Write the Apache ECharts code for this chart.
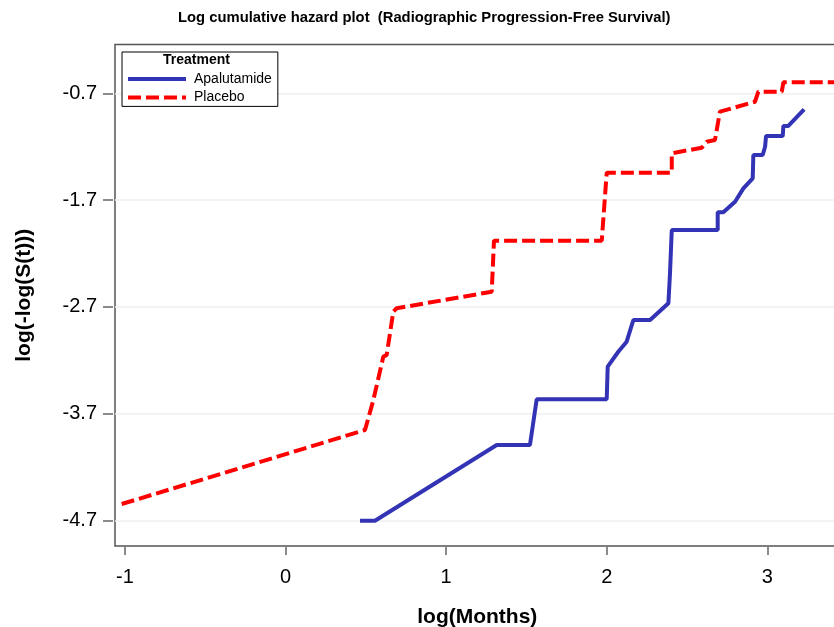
<!DOCTYPE html>
<html>
<head>
<meta charset="utf-8">
<script src="https://cdn.jsdelivr.net/npm/echarts@6/dist/echarts.min.js"></script>
<style>
html,body{margin:0;padding:0;background:#fff;}
#chart{width:834px;height:627px;}
</style>
</head>
<body>
<div id="chart"></div>
<script>
// ---- Data ----
var titleText = 'Log cumulative hazard plot  (Radiographic Progression-Free Survival)';
var xTicks = [-1, 0, 1, 2, 3];
var yTicks = [-4.7, -3.7, -2.7, -1.7, -0.7];

var apaName = 'Apalutamide';
var apaX = [0.464, 0.557, 1.315, 1.522, 1.564, 2.000, 2.006, 2.072, 2.124, 2.166, 2.270, 2.384, 2.394, 2.405, 2.691, 2.691, 2.726, 2.799, 2.851, 2.909, 2.913, 2.971, 2.986, 2.992, 3.096, 3.100, 3.131, 3.229];
var apaY = [-4.702, -4.702, -3.993, -3.993, -3.565, -3.565, -3.260, -3.120, -3.026, -2.823, -2.823, -2.666, -2.385, -1.980, -1.980, -1.814, -1.814, -1.715, -1.590, -1.496, -1.278, -1.278, -1.200, -1.100, -1.100, -1.006, -1.006, -0.850];

var plaName = 'Placebo';
var plaX = [-1.020, 0.495, 0.547, 0.609, 0.630, 0.671, 0.692, 1.284, 1.298, 1.969, 2.000, 2.405, 2.405, 2.592, 2.623, 2.674, 2.705, 2.923, 2.944, 3.090, 3.100, 3.440];
var plaY = [-4.546, -3.853, -3.572, -3.166, -3.150, -2.745, -2.713, -2.558, -2.080, -2.080, -1.443, -1.443, -1.262, -1.209, -1.153, -1.137, -0.872, -0.779, -0.685, -0.685, -0.597, -0.597];

function pairs(xs, ys) { return xs.map(function (x, i) { return [x, ys[i]]; }); }

var chart = echarts.init(document.getElementById('chart'), null, {renderer: 'canvas'});
var font = 'Liberation Sans, Arial, sans-serif';

chart.setOption({
  animation: false,
  backgroundColor: '#ffffff',
  title: {
    text: titleText,
    left: 178, top: 10, padding: 0,
    textStyle: {fontFamily: font, fontSize: 14.8, fontWeight: 'bold', color: '#000'}
  },
  legend: {
    orient: 'vertical',
    left: 122, top: 52,
    padding: [20, 6, 2, 4],
    itemGap: 4.4,
    itemWidth: 58, itemHeight: 14,
    borderColor: '#000', borderWidth: 1,
    backgroundColor: '#fff',
    itemStyle: {opacity: 0},
    lineStyle: {width: 4},
    textStyle: {fontFamily: font, fontSize: 14, color: '#000', padding: [0, 0, 0, 3]},
    data: [apaName, plaName]
  },
  graphic: [{
    type: 'text', left: 163, top: 53, z: 100, zlevel: 0,
    style: {text: 'Treatment', font: 'bold 14px ' + font, fill: '#000'}
  }],
  grid: {
    left: 115, top: 44.5, width: 724.6, height: 501.5,
    outerBoundsMode: 'none', containLabel: false,
    show: true, borderColor: '#555', borderWidth: 1.5, backgroundColor: 'transparent'
  },
  xAxis: {
    type: 'value', min: -1.0617, max: 3.45,
    offset: 1,
    name: 'log(Months)', nameLocation: 'middle', nameGap: 60,
    nameTextStyle: {fontFamily: font, fontSize: 21, fontWeight: 'bold', color: '#000'},
    axisLine: {show: false, onZero: false},
    axisTick: {show: true, length: 8, customValues: xTicks, lineStyle: {color: '#666', width: 1.5}},
    axisLabel: {customValues: xTicks, margin: 20, fontFamily: font, fontSize: 20, color: '#000'},
    splitLine: {show: false}
  },
  yAxis: {
    type: 'value', min: -4.939, max: -0.243,
    offset: 2,
    name: 'log(-log(S(t)))', nameLocation: 'middle', nameGap: 78, nameRotate: 90,
    nameTextStyle: {fontFamily: font, fontSize: 21, fontWeight: 'bold', color: '#000'},
    axisLine: {show: false, onZero: false},
    axisTick: {show: true, length: 10, customValues: yTicks, lineStyle: {color: '#666', width: 1.5}},
    axisLabel: {customValues: yTicks, margin: 16, fontFamily: font, fontSize: 20, color: '#000',
      formatter: function (v) { return v.toFixed(1); }},
    splitLine: {show: true, lineStyle: {color: '#efefef', width: 1.5}}
  },
  series: [{
    name: apaName, type: 'line', data: pairs(apaX, apaY),
    symbol: 'none', smooth: false, clip: true,
    itemStyle: {color: '#3333B5'},
    lineStyle: {color: '#3333B5', width: 4, type: 'solid'},
    z: 3
  }, {
    name: plaName, type: 'line', data: pairs(plaX, plaY),
    symbol: 'none', smooth: false, clip: true,
    itemStyle: {color: '#FF0000'},
    lineStyle: {color: '#FF0000', width: 4, type: [13, 5]},
    z: 2
  }]
});
</script>
</body>
</html>
